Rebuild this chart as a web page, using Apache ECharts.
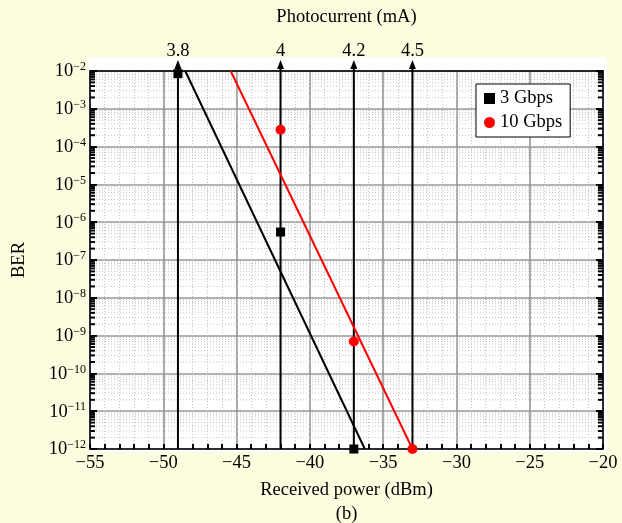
<!DOCTYPE html>
<html><head><meta charset="utf-8">
<script src="https://cdn.jsdelivr.net/npm/echarts@6/dist/echarts.min.js"></script>
<style>html,body{margin:0;padding:0;background:#FCFCDF}#c{width:622px;height:523px}</style>
</head><body><div id="c"></div>
<script>
// ---- data ----
const gbps3X = [-49, -42, -37];
const gbps3Y = [8.5e-3, 5.5e-7, 1e-12];
const gbps10X = [-42, -37, -33];
const gbps10Y = [2.8e-4, 7e-10, 1e-12];
const fit3X = [-48.5, -36.25];
const fit3Y = [1e-2, 1e-12];
const fit10X = [-45.4, -33.0];
const fit10Y = [1e-2, 1e-12];
const photoX = [-49, -42, -37, -33];
const photoLabels = ['3.8', '4', '4.2', '4.5'];
const decadeExps = [-12, -11, -10, -9, -8, -7, -6, -5, -4, -3];
const minorMults = [2, 3, 4, 5, 6, 7, 8, 9];

const FONT = "'Liberation Serif','Times New Roman',serif";
const FS = 18.5;
const X_MIN = -55, X_MAX = -20, Y_MIN = 1e-12, Y_MAX = 1e-2;

const zip = (a, b) => a.map((v, i) => [v, b[i]]);
const minorData = [];
decadeExps.forEach(e => minorMults.forEach(m => minorData.push([X_MIN, m * Math.pow(10, e)])));

const chart = echarts.init(document.getElementById('c'), null, {renderer: 'canvas'});
const sup = e => '{b|10}{s|' + (e < 0 ? '\u2212' + (-e) : e) + '}';

chart.setOption({
  backgroundColor: '#FCFCDF',
  animation: false,
  graphic: [{type: 'rect', z: -100, shape: {x: 88, y: 57, width: 519, height: 395}, style: {fill: '#fff'}, silent: true}],
  grid: {left: 90, right: 19, top: 71, bottom: 74, backgroundColor: '#fff', show: true, borderWidth: 0, outerBoundsMode: 'none', containLabel: false},
  legend: {
    left: 476, top: 84, orient: 'vertical', backgroundColor: '#fff', borderColor: '#000', borderWidth: 1,
    padding: [5, 8, 5, 8], itemGap: 5, itemWidth: 11, itemHeight: 11,
    textStyle: {fontFamily: FONT, fontSize: FS, color: '#000'},
    data: ['3 Gbps', '10 Gbps']
  },
  xAxis: [{
    type: 'value', min: X_MIN, max: X_MAX, interval: 5, position: 'bottom',
    axisLine: {lineStyle: {color: '#000', width: 1.5}},
    axisTick: {inside: true, length: 5, lineStyle: {color: '#000', width: 2}},
    minorTick: {show: true, splitNumber: 5, length: 5, lineStyle: {color: '#000', width: 2}},
    splitLine: {lineStyle: {color: '#8c8c8c', width: 1.5}},
    minorSplitLine: {show: true, lineStyle: {color: '#c4c4c4', width: 1, type: [1, 2]}},
    axisLabel: {fontFamily: FONT, fontSize: FS, color: '#000', margin: 5, formatter: v => String(v).replace('-', '\u2212')},
    name: 'Received power (dBm)\n(b)', nameLocation: 'middle', nameGap: 24,
    nameTextStyle: {fontFamily: FONT, fontSize: FS, color: '#000', lineHeight: 24, verticalAlign: 'top'}
  }, {
    type: 'value', min: X_MIN, max: X_MAX, interval: 5, position: 'top',
    axisLine: {show: true, lineStyle: {color: '#000', width: 1.5}},
    axisTick: {show: false}, axisLabel: {show: false}, splitLine: {show: false},
    name: 'Photocurrent (mA)', nameLocation: 'middle', nameGap: 44,
    nameTextStyle: {fontFamily: FONT, fontSize: FS, color: '#000'}
  }],
  yAxis: [{
    type: 'log', logBase: 10, min: Y_MIN, max: Y_MAX, splitNumber: 10,
    axisLine: {lineStyle: {color: '#000', width: 1.5}},
    axisTick: {inside: true, length: 7, lineStyle: {color: '#000', width: 2}},
    splitLine: {lineStyle: {color: '#999', width: 1.5}},
    axisLabel: {
      margin: 4, formatter: v => sup(Math.round(Math.log10(v))),
      rich: {
        b: {fontFamily: FONT, fontSize: FS, color: '#000', lineHeight: 20, verticalAlign: 'bottom'},
        s: {fontFamily: FONT, fontSize: 12, color: '#000', lineHeight: 20, verticalAlign: 'top', padding: [0, 0, 6, 0]}
      }
    },
    name: 'BER', nameLocation: 'middle', nameGap: 61, nameRotate: 90,
    nameTextStyle: {fontFamily: FONT, fontSize: FS, color: '#000'}
  }, {
    type: 'log', logBase: 10, min: Y_MIN, max: Y_MAX, splitNumber: 10, position: 'right',
    axisLine: {show: true, lineStyle: {color: '#000', width: 1.5}},
    axisTick: {inside: true, length: 7, lineStyle: {color: '#000', width: 2}},
    axisLabel: {show: false}, splitLine: {show: false}
  }],
  series: [{
    type: 'custom', name: 'minor', z: 1, silent: true, clip: false,
    data: minorData,
    renderItem: (params, api) => {
      const v = api.value(1);
      const p = api.coord([X_MIN, v]);
      const q = api.coord([X_MAX, v]);
      return {type: 'group', children: [
        {type: 'line', shape: {x1: p[0], y1: p[1], x2: q[0], y2: q[1]}, style: {stroke: '#c4c4c4', lineWidth: 1, lineDash: [1, 2]}},
        {type: 'line', shape: {x1: p[0], y1: p[1], x2: p[0] + 5, y2: p[1]}, style: {stroke: '#000', lineWidth: 2}},
        {type: 'line', shape: {x1: q[0] - 5, y1: q[1], x2: q[0], y2: q[1]}, style: {stroke: '#000', lineWidth: 2}}
      ]};
    }
  }, {
    type: 'custom', name: 'photo', z: 3, silent: true, clip: false,
    data: photoX.map((x, i) => [x, Y_MIN, photoLabels[i]]),
    renderItem: (params, api) => {
      const x = api.value(0);
      const b = api.coord([x, Y_MIN]);
      const t = api.coord([x, Y_MAX]);
      const tipY = t[1] - 11;
      return {type: 'group', children: [
        {type: 'line', shape: {x1: b[0], y1: b[1], x2: b[0], y2: tipY + 6}, style: {stroke: '#000', lineWidth: 2}},
        {type: 'polygon', shape: {points: [[b[0], tipY], [b[0] - 3.5, tipY + 9], [b[0] + 3.5, tipY + 9]]}, style: {fill: '#000'}},
        {type: 'text', style: {text: photoLabels[params.dataIndex], x: b[0], y: tipY + 1, align: 'center', verticalAlign: 'bottom', font: FS + 'px ' + FONT, fill: '#000'}}
      ]};
    }
  }, {
    type: 'line', name: 'fit3', data: zip(fit3X, fit3Y), symbol: 'none', z: 4,
    lineStyle: {color: '#000', width: 2}
  }, {
    type: 'line', name: 'fit10', data: zip(fit10X, fit10Y), symbol: 'none', z: 4,
    lineStyle: {color: '#f00', width: 2}
  }, {
    type: 'scatter', name: '3 Gbps', data: zip(gbps3X, gbps3Y), symbol: 'rect', symbolSize: 9, z: 5, clip: false,
    itemStyle: {color: '#000', opacity: 1}
  }, {
    type: 'scatter', name: '10 Gbps', data: zip(gbps10X, gbps10Y), symbol: 'circle', symbolSize: 10, z: 5, clip: false,
    itemStyle: {color: '#f00', opacity: 1}
  }]
});
</script></body></html>
